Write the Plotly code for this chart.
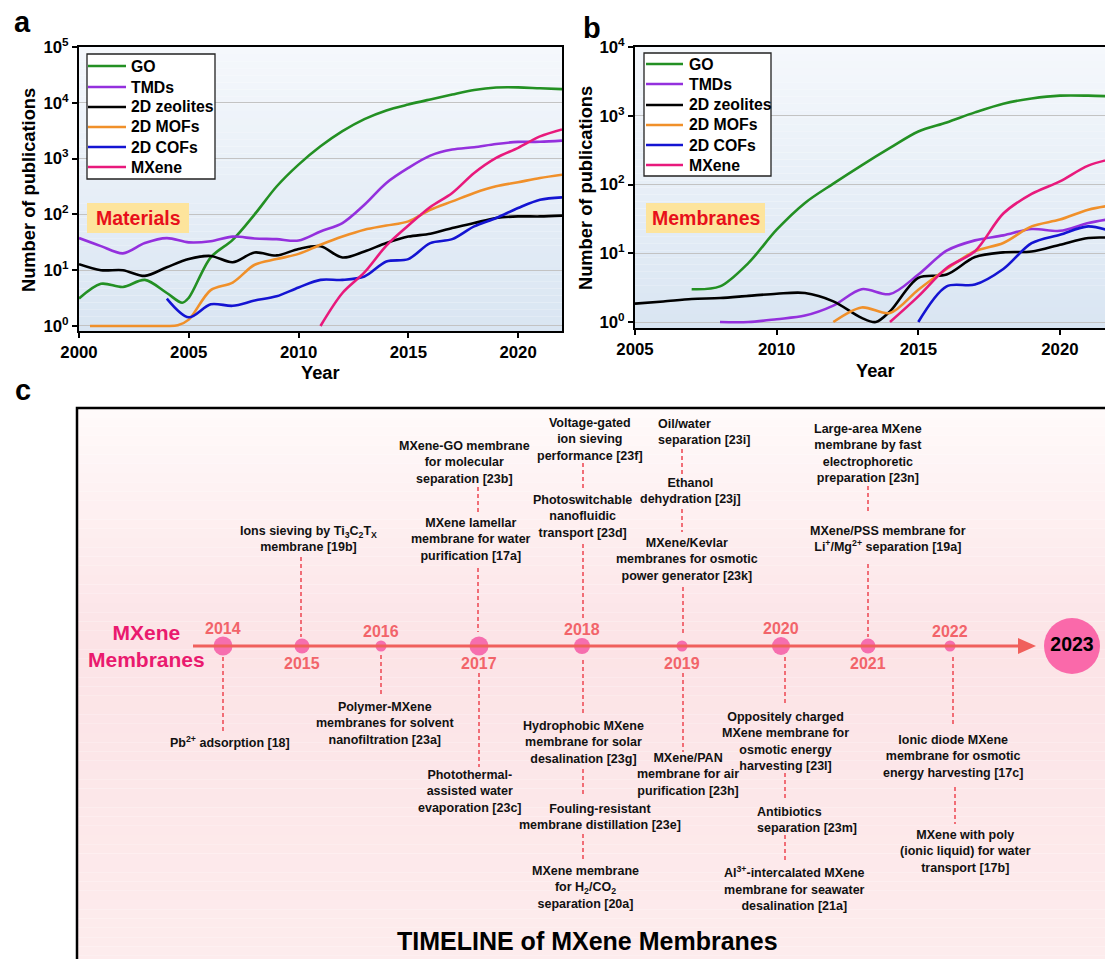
import plotly.graph_objects as go

W, H = 1105, 959
FONT = "Liberation Sans, Arial, Helvetica, sans-serif"

# ---------------- data: panel a (Materials) ----------------
years_a = [2000, 2001, 2002, 2003, 2004, 2005, 2006, 2007, 2008, 2009, 2010, 2011,
           2012, 2013, 2014, 2015, 2016, 2017, 2018, 2019, 2020, 2021, 2022]
a_go_x = [2000, 2001, 2002, 2003, 2004, 2004.7, 2005, 2006, 2007, 2008, 2009, 2010, 2011,
          2012, 2013, 2014, 2015, 2016, 2017, 2018, 2019, 2020, 2021, 2022]
a_go_y = [3.1, 5.7, 5.0, 6.7, 3.9, 2.6, 3.2, 17, 35, 100, 316, 780, 1660,
          3100, 5100, 7300, 9300, 11500, 14100, 17000, 18800, 18900, 18200, 17600]
a_tmd_y = [37.6, 27, 20, 30.6, 37.6, 31.5, 33, 40, 37, 36, 34, 49.5,
           70, 149, 366, 680, 1130, 1450, 1600, 1830, 1990, 2000, 2100]
a_zeo_y = [12.8, 10, 10, 7.9, 11.3, 15.8, 18, 13.9, 20.8, 18.4, 24, 26.8,
           16.9, 21.7, 30.7, 40, 45, 57, 70, 86, 92, 92, 95]
a_mof_x = [2000.5, 2001, 2002, 2003, 2004, 2004.5, 2005, 2006, 2007, 2008, 2009, 2010, 2011,
           2012, 2013, 2014, 2015, 2016, 2017, 2018, 2019, 2020, 2021, 2022]
a_mof_y = [1, 1, 1, 1, 1, 1.03, 1.3, 4.4, 6.0, 12.5, 15.8, 19.6, 28.5,
           40, 53, 63, 75, 121, 171, 242, 318, 377, 450, 515]
a_cof_x = [2004, 2005, 2006, 2007, 2008, 2009, 2010, 2011, 2012, 2013,
           2014, 2015, 2016, 2017, 2018, 2019, 2020, 2021, 2022]
a_cof_y = [3.1, 1.43, 2.45, 2.3, 2.85, 3.4, 4.9, 6.7, 6.7, 7.7,
           14.3, 15.8, 30.6, 36, 61, 86, 130, 183, 202]
a_mx_x = [2011, 2012, 2013, 2014, 2015, 2016, 2017, 2018, 2019, 2020, 2021, 2022]
a_mx_y = [1.0, 3.9, 9.1, 27.5, 63, 136, 242, 553, 1030, 1560, 2500, 3330]

# ---------------- data: panel b (Membranes) ----------------
b_go_x = [2007, 2008, 2009, 2010, 2011, 2012, 2013, 2014, 2015, 2016, 2017, 2018, 2019, 2020, 2021, 2022]
b_go_y = [3.0, 3.3, 7.2, 22, 54, 103, 190, 340, 590, 800, 1120, 1500, 1780, 1960, 1960, 1900]
b_tmd_x = [2008, 2009, 2010, 2011, 2012, 2013, 2014, 2015, 2016, 2017, 2018, 2019, 2020, 2021, 2022]
b_tmd_y = [1.0, 1.0, 1.1, 1.24, 1.73, 3.0, 2.55, 4.9, 10.9, 15.4, 18.2, 22.5, 21.2, 27.5, 32.5]
b_zeo_x = [2005, 2006, 2007, 2008, 2009, 2010, 2011, 2012, 2013, 2013.5,
           2014, 2015, 2016, 2017, 2018, 2019, 2020, 2021, 2022]
b_zeo_y = [1.85, 1.99, 2.16, 2.23, 2.4, 2.58, 2.64, 2.0, 1.15, 1.0,
           1.43, 4.4, 4.9, 8.8, 10.3, 10.6, 13.3, 16.7, 16.7]
b_mof_x = [2012, 2013, 2014, 2015, 2016, 2017, 2018, 2019, 2020, 2021, 2022]
b_mof_y = [1.0, 1.63, 1.35, 2.95, 5.9, 10.7, 14.1, 24.6, 30.9, 43, 51]
b_cof_x = [2015, 2016, 2017, 2018, 2019, 2020, 2021, 2022]
b_cof_y = [1.0, 3.3, 3.5, 5.9, 14, 18.6, 24.6, 19.7]
b_mx_x = [2014, 2015, 2016, 2017, 2018, 2019, 2020, 2021, 2022]
b_mx_y = [1.0, 2.36, 6.1, 10.7, 37.8, 73, 111, 188, 245]

series_names = ["GO", "TMDs", "2D zeolites", "2D MOFs", "2D COFs", "MXene"]
series_colors = ["#239023", "#9430dd", "#000000", "#f0902a", "#1414d2", "#e8197c"]

y_tickvals = [1, 10, 100, 1000, 10000, 100000]
y_ticktext = ["10<sup>0</sup>", "10<sup>1</sup>", "10<sup>2</sup>", "10<sup>3</sup>",
              "10<sup>4</sup>", "10<sup>5</sup>"]

# ---------------- data: panel c (timeline) ----------------
tl_years = [2014, 2015, 2016, 2017, 2018, 2019, 2020, 2021, 2022]
tl_side = ["above", "below", "above", "below", "above", "below", "above", "below", "above"]
events = [
    ("Ions sieving by Ti<sub>3</sub>C<sub>2</sub>T<sub>X</sub><br>membrane [19b]", 308, 538.5, "center"),
    ("MXene-GO membrane<br>for molecular<br>separation [23b]", 464.5, 462, "center"),
    ("MXene lamellar<br>membrane for water<br>purification [17a]", 471, 539.5, "center"),
    ("Voltage-gated<br>ion sieving<br>performance [23f]", 590, 439.5, "center"),
    ("Photoswitchable<br>nanofluidic<br>transport [23d]", 582, 516.5, "center"),
    ("Oil/water<br>separation [23i]", 656, 432, "left"),
    ("Ethanol<br>dehydration [23j]", 690, 491, "center"),
    ("MXene/Kevlar<br>membranes for osmotic<br>power generator [23k]", 687, 559.5, "center"),
    ("Large-area MXene<br>membrane by fast<br>electrophoretic<br>preparation [23n]", 868, 453, "center"),
    ("MXene/PSS membrane for<br>Li<sup>+</sup>/Mg<sup>2+</sup> separation [19a]", 888, 538.5, "center"),
    ("Pb<sup>2+</sup> adsorption [18]", 230, 742, "center"),
    ("Polymer-MXene<br>membranes for solvent<br>nanofiltration [23a]", 385, 723, "center"),
    ("Photothermal-<br>assisted water<br>evaporation [23c]", 470, 791.5, "center"),
    ("Hydrophobic MXene<br>membrane for solar<br>desalination [23g]", 583, 742, "center"),
    ("Fouling-resistant<br>membrane distillation [23e]", 600, 817, "center"),
    ("MXene membrane<br>for H<sub>2</sub>/CO<sub>2</sub><br>separation [20a]", 585, 887.5, "center"),
    ("MXene/PAN<br>membrane for air<br>purification [23h]", 688, 774.5, "center"),
    ("Oppositely charged<br>MXene membrane for<br>osmotic energy<br>harvesting [23l]", 785, 741, "center"),
    ("Antibiotics<br>separation [23m]", 755, 819.5, "left"),
    ("Al<sup>3+</sup>-intercalated MXene<br>membrane for seawater<br>desalination [21a]", 794, 888.5, "center"),
    ("Ionic diode MXene<br>membrane for osmotic<br>energy harvesting [17c]", 953, 756.5, "center"),
    ("MXene with poly<br>(ionic liquid) for water<br>transport [17b]", 965, 851.5, "center"),
]

# ---------------- layout geometry (pixels) ----------------
tl_node_x = [223, 302, 381, 479, 582, 682, 781, 868, 950]
tl_node_d = [19, 15, 11, 19, 16, 11, 18, 15, 11]
TL_Y = 646
connectors = [  # x, y0, y1
    (223, 657, 732), (301, 557, 637), (381, 655, 695),
    (478, 487, 513), (478, 568, 632), (479, 673, 767),
    (583, 463, 489), (583, 544, 620), (583, 660, 713), (583, 769, 795), (583, 834, 862),
    (682, 449, 476), (682, 509, 532), (683, 587, 636), (683, 673, 752),
    (785, 657, 705), (785, 773, 800), (785, 835, 862),
    (868, 486, 513), (868, 564, 637),
    (953, 657, 725), (955, 787, 824),
]
# legend geometry: box (x0, x1, y0, y1), line x0, x1, text x, row ys
legend_geo = [
    ((87, 215, 54, 179), 88, 126, 129, [66, 87, 107, 127, 147, 167]),
    ((644, 771, 53, 176), 646, 683, 687, [64, 84, 105, 125, 145, 165]),
]


def px(x):
    return x / W


def py(y):
    return 1 - y / H


def hexrgb(h):
    h = h.lstrip("#")
    return tuple(int(h[i:i + 2], 16) for i in (0, 2, 4))


def lerp_color(stops, t):
    for (t0, c0), (t1, c1) in zip(stops[:-1], stops[1:]):
        if t0 <= t <= t1:
            f = (t - t0) / (t1 - t0) if t1 > t0 else 0
            a, b = hexrgb(c0), hexrgb(c1)
            return "rgb(%d,%d,%d)" % tuple(round(a[i] + (b[i] - a[i]) * f) for i in range(3))
    return stops[-1][1]


fig = go.Figure()

line_w = 2.6
a_sets = [(a_go_x, a_go_y), (years_a, a_tmd_y), (years_a, a_zeo_y),
          (a_mof_x, a_mof_y), (a_cof_x, a_cof_y), (a_mx_x, a_mx_y)]
b_sets = [(b_go_x, b_go_y), (b_tmd_x, b_tmd_y), (b_zeo_x, b_zeo_y),
          (b_mof_x, b_mof_y), (b_cof_x, b_cof_y), (b_mx_x, b_mx_y)]
for (xs, ys), nm, col in zip(a_sets, series_names, series_colors):
    fig.add_trace(go.Scatter(x=xs, y=ys, mode="lines", name=nm, showlegend=False,
                             line=dict(color=col, width=line_w, shape="spline", smoothing=0.9),
                             xaxis="x", yaxis="y"))
for (xs, ys), nm, col in zip(b_sets, series_names, series_colors):
    fig.add_trace(go.Scatter(x=xs, y=ys, mode="lines", name=nm, showlegend=False,
                             line=dict(color=col, width=line_w, shape="spline", smoothing=0.9),
                             xaxis="x2", yaxis="y2"))

# timeline nodes
fig.add_trace(go.Scatter(x=tl_node_x, y=[TL_Y] * len(tl_node_x), mode="markers",
                         marker=dict(size=tl_node_d, color="#f43c96", line=dict(width=0)),
                         xaxis="x3", yaxis="y3", showlegend=False, hoverinfo="skip"))
fig.add_trace(go.Scatter(x=[1072], y=[TL_Y], mode="markers+text", text=["2023"],
                         textposition="middle center",
                         textfont=dict(family=FONT, size=19.5, color="black", weight="bold"),
                         marker=dict(size=56, color="#fa69aa", line=dict(width=0)),
                         xaxis="x3", yaxis="y3", showlegend=False, hoverinfo="skip"))

shapes = []
annotations = []

# plot backgrounds (gradient)
N = 40
for (x0, x1, y0, y1) in [(79, 562, 47, 331), (635, 1110, 47, 328)]:
    for i in range(N):
        ya = y0 + (y1 - y0) * i / N
        yb = y0 + (y1 - y0) * (i + 1) / N
        col = lerp_color([(0, "#f5f8fc"), (1, "#d9e5f2")], (i + 0.5) / N)
        shapes.append(dict(type="rect", xref="paper", yref="paper", x0=px(x0), x1=px(x1),
                           y0=py(yb), y1=py(ya), fillcolor=col, line=dict(width=0), layer="below"))

# manual legends
for (bx0, bx1, by0, by1), lx0, lx1, tx, rows in legend_geo:
    shapes.append(dict(type="rect", xref="paper", yref="paper", x0=px(bx0), x1=px(bx1),
                       y0=py(by1), y1=py(by0), fillcolor="white",
                       line=dict(color="#222222", width=1.3)))
    for nm, col, ry in zip(series_names, series_colors, rows):
        shapes.append(dict(type="line", xref="paper", yref="paper", x0=px(lx0), x1=px(lx1),
                           y0=py(ry), y1=py(ry), line=dict(color=col, width=2.6)))
        annotations.append(dict(x=px(tx), y=py(ry), xref="paper", yref="paper", text=nm,
                                showarrow=False, xanchor="left", yanchor="middle",
                                font=dict(family=FONT, size=15.8, color="black", weight="bold")))

# panel c background gradient
NC = 60
c_top, c_bot = 408, 965
for i in range(NC):
    ya = c_top + (c_bot - c_top) * i / NC
    yb = c_top + (c_bot - c_top) * (i + 1) / NC
    t = (i + 0.5) / NC
    col = lerp_color([(0, "#fffafa"), (0.42, "#fce3e6"), (1, "#fdeced")], t)
    shapes.append(dict(type="rect", xref="paper", yref="paper", x0=px(77), x1=px(1110),
                       y0=py(yb), y1=py(ya), fillcolor=col, line=dict(width=0), layer="below"))
shapes.append(dict(type="rect", xref="paper", yref="paper", x0=px(77), x1=px(1120),
                   y0=py(975), y1=py(408), line=dict(color="black", width=2.5), layer="below"))

# label boxes "Materials" / "Membranes"
for (x0, x1, txt, cx) in [(87, 189, "Materials", 138), (646, 765, "Membranes", 706)]:
    shapes.append(dict(type="rect", xref="paper", yref="paper", x0=px(x0), x1=px(x1),
                       y0=py(233), y1=py(203), fillcolor="#fde49c", line=dict(width=0)))
    annotations.append(dict(x=px(cx), y=py(218), xref="paper", yref="paper", text=txt,
                            showarrow=False, xanchor="center", yanchor="middle",
                            font=dict(family=FONT, size=19.5, color="#e8101a", weight="bold")))

# timeline axis line + arrow
shapes.append(dict(type="line", xref="x3", yref="y3", x0=193, x1=1022, y0=TL_Y, y1=TL_Y,
                   line=dict(color="#f0605c", width=3)))
shapes.append(dict(type="path", xref="x3", yref="y3",
                   path="M 1018 %g L 1036 %g L 1018 %g Z" % (TL_Y - 8, TL_Y, TL_Y + 8),
                   fillcolor="#f0605c", line=dict(width=0)))
for (x, y0, y1) in connectors:
    shapes.append(dict(type="line", xref="x3", yref="y3", x0=x, x1=x, y0=y0, y1=y1,
                       line=dict(color="#f0606a", width=1.8, dash="4px,3px")))

# year labels
for yr, xx, side, d in zip(tl_years, tl_node_x, tl_side, tl_node_d):
    yy = (TL_Y - 15 - (d - 11) * 0.35) if side == "above" else TL_Y + 17
    annotations.append(dict(x=px(xx), y=py(yy), xref="paper", yref="paper", text=str(yr),
                            showarrow=False, xanchor="center", yanchor="middle",
                            font=dict(family=FONT, size=16, color="#f2646a", weight="bold")))

annotations.append(dict(x=px(146), y=py(646), xref="paper", yref="paper",
                        text="MXene<br>Membranes", showarrow=False, xanchor="center", yanchor="middle",
                        font=dict(family=FONT, size=21, color="#ea1a6e", weight="bold")))

for txt, x, y, al in events:
    annotations.append(dict(x=px(x), y=py(y), xref="paper", yref="paper", text=txt,
                            showarrow=False, align=al,
                            xanchor="left" if al == "left" else "center", yanchor="middle",
                            font=dict(family=FONT, size=12.5, color="#111111", weight="bold")))

annotations.append(dict(x=px(587), y=py(941), xref="paper", yref="paper",
                        text="TIMELINE of MXene Membranes", showarrow=False,
                        xanchor="center", yanchor="middle",
                        font=dict(family=FONT, size=25, color="black", weight="bold")))

# panel letters
for txt, x, y in [("a", 22, 22), ("b", 592, 28), ("c", 23, 390)]:
    annotations.append(dict(x=px(x), y=py(y), xref="paper", yref="paper", text=txt,
                            showarrow=False, xanchor="center", yanchor="middle",
                            font=dict(family=FONT, size=29, color="black", weight="bold")))

# axis titles
for txt, x, y, ang in [("Number of publications", 29, 190, -90), ("Year", 320, 372, 0),
                       ("Number of publications", 586, 188, -90), ("Year", 875, 370, 0)]:
    annotations.append(dict(x=px(x), y=py(y), xref="paper", yref="paper", text=txt,
                            showarrow=False, textangle=ang, xanchor="center", yanchor="middle",
                            font=dict(family=FONT, size=18.3, color="black", weight="bold")))

tickfont = dict(family=FONT, size=16.8, color="black", weight="bold")
axis_common = dict(showline=True, linecolor="black", linewidth=2, ticks="outside",
                   ticklen=5, tickwidth=1.5, tickcolor="black", tickfont=tickfont,
                   zeroline=False)

fig.update_layout(
    width=W, height=H,
    margin=dict(l=0, r=0, t=0, b=0, autoexpand=False),
    paper_bgcolor="white", plot_bgcolor="rgba(0,0,0,0)",
    font=dict(family=FONT, color="black"),
    showlegend=False,
    xaxis=dict(domain=[px(79), px(562)], range=[2000, 2022], anchor="y", showgrid=False,
               tickvals=[2000, 2005, 2010, 2015, 2020], mirror=True, **axis_common),
    yaxis=dict(domain=[py(331), py(47)], type="log", range=[-0.09, 5], anchor="x",
               tickvals=y_tickvals, ticktext=y_ticktext, showgrid=True,
               gridcolor="#c3c3c3", gridwidth=1, mirror=True, **axis_common),
    xaxis2=dict(domain=[px(635), 1.0], range=[2005, 2021.59], anchor="y2", showgrid=False,
                tickvals=[2005, 2010, 2015, 2020], mirror=True, **axis_common),
    yaxis2=dict(domain=[py(328), py(47)], type="log", range=[-0.087, 4], anchor="x2",
                tickvals=y_tickvals[:5], ticktext=y_ticktext[:5], showgrid=True,
                gridcolor="#c3c3c3", gridwidth=1, mirror=False, **axis_common),
    xaxis3=dict(domain=[0, 1], range=[0, W], visible=False, anchor="y3", fixedrange=True),
    yaxis3=dict(domain=[0, 1], range=[H, 0], visible=False, anchor="x3", fixedrange=True),
    shapes=shapes,
    annotations=annotations,
)

fig.write_html("out.html", config={"displayModeBar": False},
               post_script="document.body.style.margin='0';document.body.style.padding='0';")
